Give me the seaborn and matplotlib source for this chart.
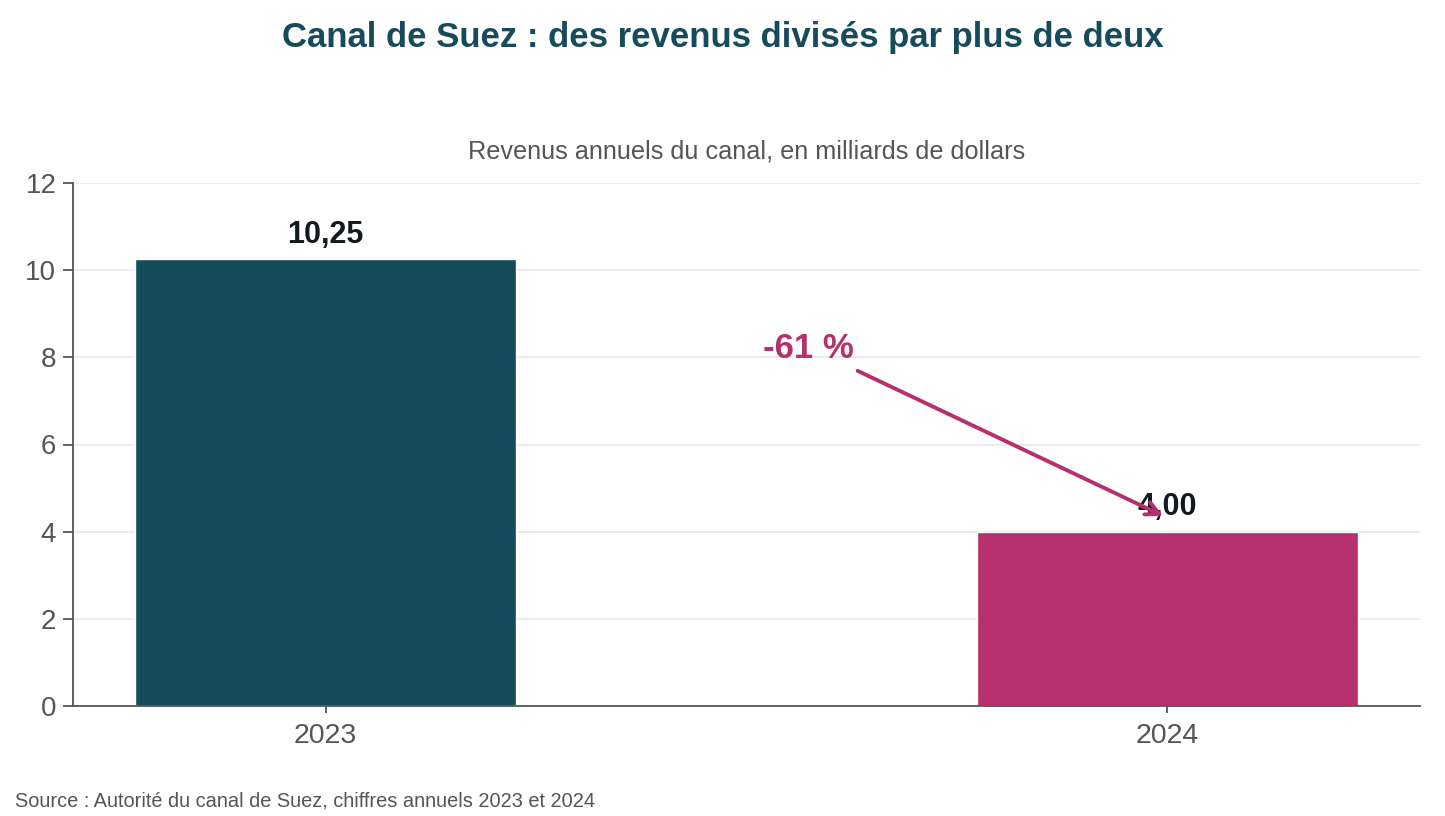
import matplotlib
matplotlib.use("Agg")
import matplotlib.pyplot as plt
import seaborn as sns
import pandas as pd

years = ["2023", "2024"]
revenues = [10.25, 4.00]
value_labels = ["10,25", "4,00"]
bar_colors = ["#154b5b", "#b5306d"]
change_label = "-61 %"
y_ticks = [0, 2, 4, 6, 8, 10, 12]

title = "Canal de Suez : des revenus divisés par plus de deux"
subtitle = "Revenus annuels du canal, en milliards de dollars"
source = "Source : Autorité du canal de Suez, chiffres annuels 2023 et 2024"

sns.set_theme(style="white")
plt.rcParams["font.family"] = ["Liberation Sans", "DejaVu Sans"]

df = pd.DataFrame({"year": years, "rev": revenues})

fig = plt.figure(figsize=(14.45, 8.16), dpi=100)
ax = fig.add_axes([73 / 1445, 1 - 706 / 816, (1420 - 73) / 1445, (706 - 183) / 816])

sns.barplot(data=df, x="year", y="rev", hue="year", palette=bar_colors,
            width=0.452, legend=False, ax=ax, saturation=1)

ax.set_xlim(-0.3, 1.3)
ax.set_ylim(0, 12)
ax.set_yticks(y_ticks)
ax.set_axisbelow(True)
ax.yaxis.grid(True, color="#e8ecee", linewidth=1.3)
ax.xaxis.grid(False)
for s in ["top", "right"]:
    ax.spines[s].set_visible(False)
for s in ["left", "bottom"]:
    ax.spines[s].set_color("#555555")
    ax.spines[s].set_linewidth(1.3)
ax.tick_params(axis="y", length=7, width=1.3, color="#555555", labelsize=20,
               labelcolor="#555555", pad=5, left=True)
ax.tick_params(axis="x", length=5, width=1.3, color="#555555", labelsize=20.5,
               labelcolor="#555555", pad=7, bottom=True)
ax.set_xlabel("")
ax.set_ylabel("")

for i, (v, lab) in enumerate(zip(revenues, value_labels)):
    ax.annotate(lab, (i, v), xytext=(0, 17.5), textcoords="offset points",
                ha="center", va="center", fontsize=22, fontweight="bold",
                color="#111a1c")

ax.annotate("", xy=(0.995, 4.36), xytext=(0.632, 7.69),
            arrowprops=dict(arrowstyle="->", color="#b5306d", lw=2.8,
                            mutation_scale=24, shrinkA=0, shrinkB=0),
            zorder=5)
ax.text(0.574, 8.2, change_label, ha="center", va="center", fontsize=25,
        fontweight="bold", color="#b5306d")

fig.text(0.5, 1 - 38 / 816, title, ha="center", va="center", fontsize=25,
         fontweight="bold", color="#154b5b")
fig.text((73 + 1420) / 2 / 1445, 1 - 151 / 816, subtitle, ha="center", va="center",
         fontsize=18.2, color="#555555")
fig.text(15 / 1445, 1 - 801 / 816, source, ha="left", va="center", fontsize=14.4,
         color="#555555")

fig.savefig("out.png", dpi=100, facecolor="white")
